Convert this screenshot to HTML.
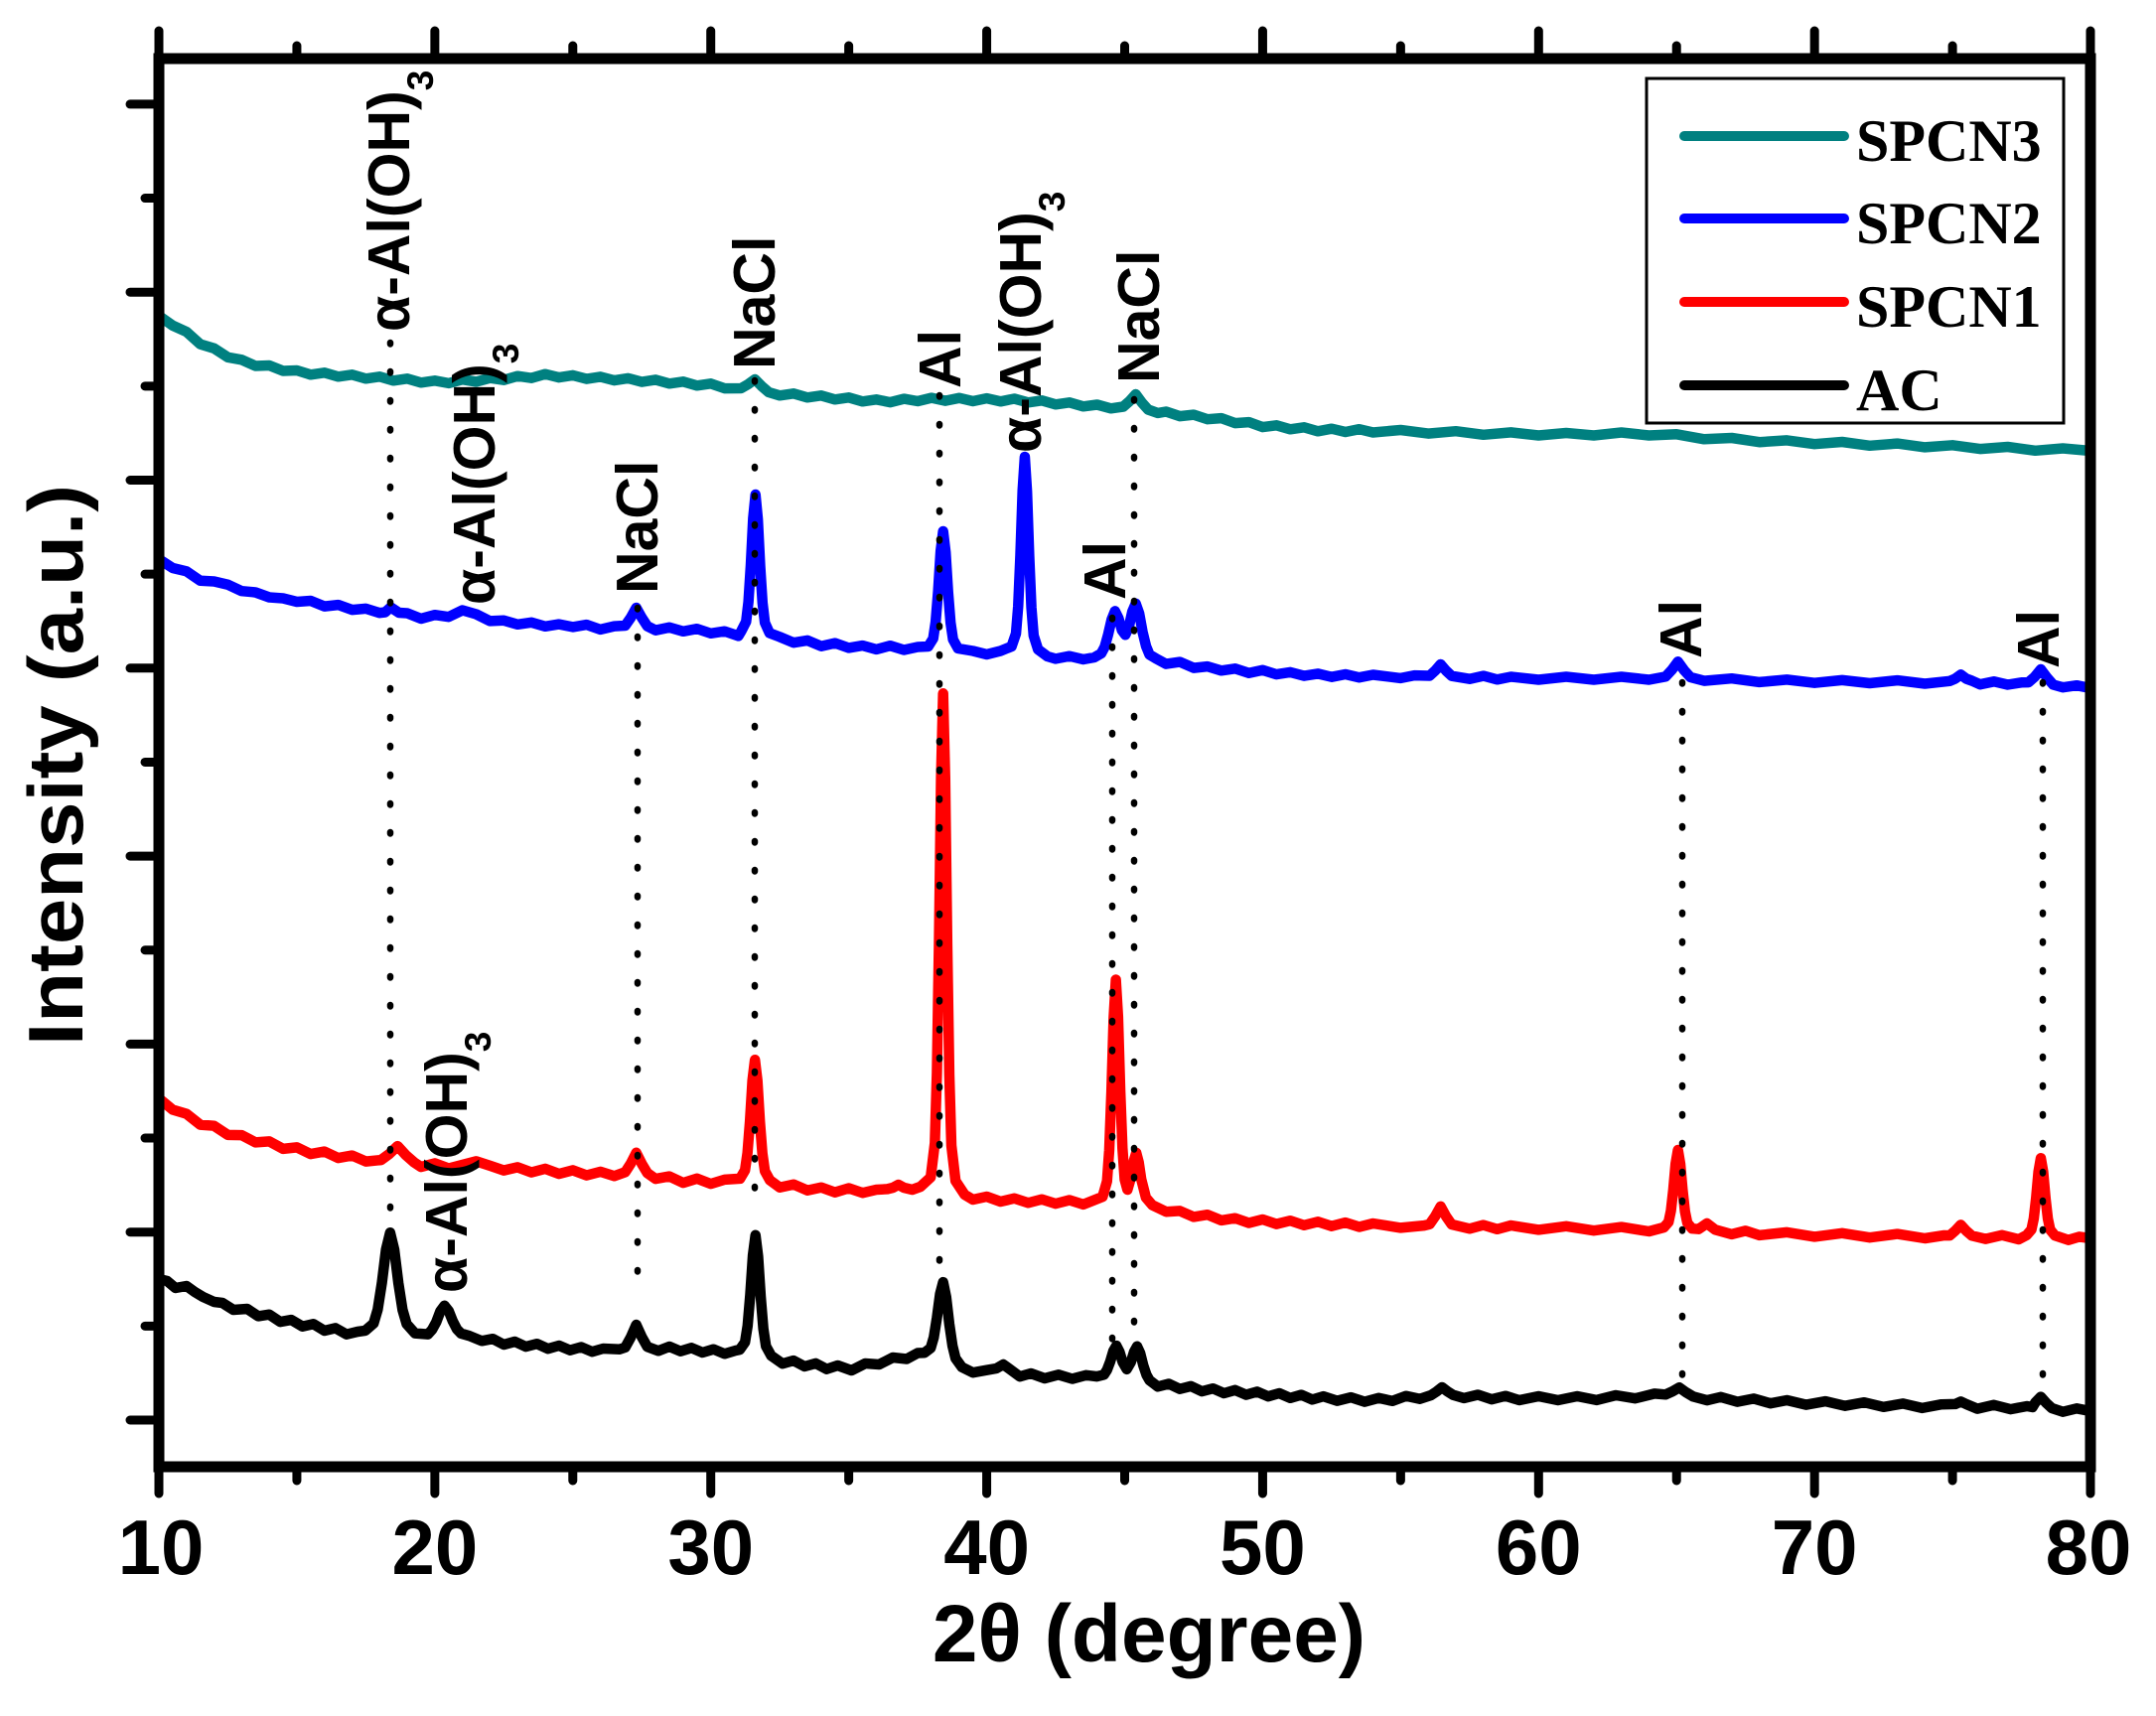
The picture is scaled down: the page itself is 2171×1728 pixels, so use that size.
<!DOCTYPE html>
<html>
<head>
<meta charset="utf-8">
<style>
html,body{margin:0;padding:0;background:#fff;}
svg{display:block;}
.lab{font-family:"Liberation Sans",Arial,sans-serif;font-weight:bold;fill:#000;}
.leg{font-family:"Liberation Serif","Times New Roman",serif;font-weight:bold;fill:#000;}
.cv{fill:none;stroke-width:10.5;stroke-linejoin:round;stroke-linecap:round;vector-effect:non-scaling-stroke;}
</style>
</head>
<body>
<svg width="2171" height="1728" viewBox="0 0 2171 1728" xmlns="http://www.w3.org/2000/svg">
<rect x="0" y="0" width="2171" height="1728" fill="#fff"/>
<g fill="none" stroke="#000" stroke-width="9" stroke-linecap="round">
<path d="M160 1477V1504M437.86 1477V1504M715.72 1477V1504M993.58 1477V1504M1271.44 1477V1504M1549.3 1477V1504M1827.16 1477V1504M2105 1477V1504M298.93 1477V1491M576.79 1477V1491M854.65 1477V1491M1132.51 1477V1491M1410.37 1477V1491M1688.23 1477V1491M1966.09 1477V1491"/>
<path d="M160 59V31M437.86 59V31M715.72 59V31M993.58 59V31M1271.44 59V31M1549.3 59V31M1827.16 59V31M2105 59V31M298.93 59V46M576.79 59V46M854.65 59V46M1132.51 59V46M1410.37 59V46M1688.23 59V46M1966.09 59V46"/>
<path d="M160 1430H131M160 1240.7H131M160 1051.4H131M160 862.1H131M160 672.8H131M160 483.5H131M160 294.2H131M160 104.9H131"/>
<path d="M160 1335.35H146M160 1146.05H146M160 956.75H146M160 767.45H146M160 578.15H146M160 388.85H146M160 199.55H146"/>
</g>
<g transform="matrix(27.786 0 0 1 -117.86 0)">
<polyline class="cv" stroke="#000000" points="10,1288 10.3,1290 10.6,1297 11,1295 11.3,1301 11.6,1306 12,1311 12.3,1312 12.7,1319 13.2,1318 13.6,1325.4 14,1323.7 14.4,1331.1 14.8,1329.1 15.2,1335.7 15.6,1333.3 16,1340 16.4,1337.4 16.8,1343.7 17.2,1341 17.48,1339.9 17.78,1332.7 17.93,1318.6 18.08,1292.1 18.23,1258.4 18.38,1241.2 18.53,1258.4 18.68,1292.2 18.83,1319 18.98,1333.3 19.28,1342.6 19.75,1343.6 19.9,1339 20.05,1331.4 20.2,1320.4 20.35,1314.8 20.5,1320 20.65,1330.4 20.8,1338.5 20.95,1342.8 21.25,1345.2 21.7,1350.3 22.1,1348.2 22.5,1354 22.9,1351 23.3,1356.1 23.7,1353.2 24.1,1358.2 24.5,1355 24.9,1359.7 25.3,1356.5 25.7,1361.2 26.1,1358 26.7,1358.7 26.9,1356.8 27.1,1346.7 27.3,1334 27.5,1346.3 27.7,1356.2 28.1,1360.3 28.5,1356 28.9,1360.7 29.3,1357.3 29.7,1362 30.1,1358.7 30.5,1363.3 30.9,1360 31.05,1359.1 31.24,1351.6 31.335,1335 31.43,1303.8 31.525,1264.3 31.62,1243.8 31.715,1265.3 31.81,1305.8 31.905,1338 32,1355.6 32.19,1365.2 32.6,1373.2 33,1370.1 33.4,1376 33.8,1372.9 34.2,1378.7 34.6,1375 35.1,1380 35.6,1373 36.1,1374 36.6,1367 37.1,1368.5 37.5,1362.5 37.745,1362.2 37.97,1357.4 38.08,1346.9 38.195,1327 38.31,1302.9 38.42,1291.2 38.53,1306 38.645,1333.4 38.76,1355.3 38.87,1367.8 39.1,1376.7 39.5,1382.2 40,1379.7 40.35,1378 40.6,1374 40.85,1379 41.2,1386.2 41.6,1383 42.1,1388 42.6,1384.3 43.1,1388.5 43.6,1384.8 44,1386.1 44.25,1384.3 44.36,1379.5 44.475,1371.1 44.59,1360.4 44.7,1355.1 44.81,1361.1 44.925,1371.5 45.075,1378.8 45.225,1371.6 45.34,1361.3 45.45,1355.8 45.56,1362.4 45.675,1375 45.79,1384.5 45.9,1389.9 46.2,1396.3 46.6,1393.5 47,1398.7 47.4,1395.9 47.8,1401.1 48.2,1398.2 48.6,1403 49,1399.8 49.4,1404.6 49.8,1401.4 50.2,1406.2 50.6,1403 51,1407.8 51.4,1404.6 51.8,1409.4 52.2,1406.1 52.7,1410.6 53.2,1407.1 53.7,1411.6 54.2,1407.8 54.7,1410.8 55.2,1405.7 55.7,1408.7 56.1,1405 56.3,1401.4 56.5,1397 56.7,1401.2 56.9,1404.7 57.3,1407.9 57.8,1404.5 58.3,1409.1 58.8,1405.7 59.3,1410 60,1406 60.7,1410 61.4,1406 62.1,1409.9 62.8,1405 63.5,1408.2 64.2,1403.4 64.6,1404.3 64.85,1401.2 65.1,1397.2 65.35,1402.2 65.6,1406.3 66.1,1410.1 66.6,1406.8 67.2,1411.6 67.8,1408.4 68.4,1413.2 69,1410 69.7,1414.6 70.4,1411.1 71.1,1415.7 71.8,1412.2 72.5,1416.8 73.2,1413.4 73.9,1417.9 74.6,1414.2 75.1,1413.9 75.3,1411.4 75.5,1414 75.9,1418.6 76.5,1414.8 77.1,1419.1 77.7,1416 77.9,1417 78,1412.3 78.2,1406.6 78.4,1412.9 78.6,1418 79,1421.7 79.5,1418.3 80,1421"/>
<polyline class="cv" stroke="#ff0000" points="10,1106 10.5,1117.5 11,1121.6 11.5,1132.6 12,1133.7 12.5,1142.9 13,1143.1 13.5,1150.4 14,1149.4 14.5,1156.9 15,1155.4 15.5,1162.1 16,1159.6 16.5,1166.1 17,1163.6 17.5,1169.6 18.05,1168.1 18.35,1162 18.65,1154.1 18.95,1163.2 19.25,1170.5 19.5,1175.1 20,1171.4 20.5,1176.6 21,1172.9 21.5,1169.4 22,1173.9 22.5,1178.6 23,1175.4 23.5,1180.6 24,1176.9 24.5,1182.1 25,1178.4 25.5,1183.6 26,1179.9 26.5,1184.3 26.9,1180.3 27.1,1171.7 27.3,1160.8 27.5,1171.9 27.7,1181.2 28,1187.1 28.5,1184.6 29,1191.1 29.5,1186.8 30,1192.1 30.5,1187.9 31.06,1186.9 31.24,1178.4 31.33,1161 31.42,1129 31.51,1088 31.6,1067.2 31.69,1088.3 31.78,1129.4 31.87,1161.5 31.96,1179.2 32.14,1188.4 32.5,1195.7 33,1192.7 33.5,1198.7 34,1195.7 34.5,1200.7 35,1196.5 35.5,1201.2 36,1198 36.4,1197.4 36.6,1196 36.8,1193 37,1196 37.3,1198 37.6,1195 37.97,1185.5 38.12,1151 38.195,1080.5 38.27,949.8 38.345,784 38.42,698.3 38.495,784.6 38.57,950.9 38.645,1082.2 38.72,1153.5 38.87,1189.1 39.2,1203 39.5,1208 40,1205 40.5,1210 41,1206.8 41.5,1211.3 42,1207.7 42.5,1212.1 43,1208.5 43.5,1212.9 44.2,1205.1 44.36,1189.5 44.44,1158.2 44.52,1099.3 44.6,1024.8 44.68,986.5 44.76,1024 44.84,1098.3 44.92,1156.4 45,1187.8 45.1,1198 45.24,1184.6 45.33,1169.2 45.42,1160.9 45.51,1170.5 45.6,1187.4 45.77,1206 46,1213.5 46.5,1220.2 47,1219.4 47.5,1225.4 48,1223.2 48.5,1228.9 49,1226.7 49.5,1231.5 50,1228 50.5,1232.6 51,1229.2 51.5,1233.8 52,1230.3 52.5,1234.7 53,1231.1 53.5,1235.5 54,1232 55,1236.4 55.85,1234.1 56.05,1232.8 56.25,1224.9 56.45,1214.9 56.65,1225 56.85,1233 57.5,1237.3 58,1233.6 58.5,1237.8 59,1234 60,1238.4 61,1234.8 62,1239.2 63,1235.6 64,1240 64.54,1236 64.71,1230.6 64.795,1219.3 64.88,1198.3 64.965,1171.9 65.05,1158 65.135,1172.1 65.22,1198.7 65.305,1219.9 65.39,1231.4 65.56,1237.2 65.8,1237.7 66.1,1232 66.4,1238.3 67,1242.9 67.5,1239.4 68,1243.9 69,1240.9 70,1245.4 71,1241.8 72,1246.2 73,1242.6 74,1247 74.7,1244 74.9,1244.1 75.1,1239.3 75.3,1233.4 75.5,1239.5 75.7,1244.3 76.2,1247.6 76.8,1243.8 77.4,1248 77.69,1243.7 77.86,1238.2 77.945,1227 78.03,1206.2 78.115,1179.9 78.2,1166.3 78.285,1179.9 78.37,1206.4 78.455,1227.2 78.54,1238.4 78.71,1244.1 79.2,1248.7 79.6,1245.4 80,1247"/>
<polyline class="cv" stroke="#0000ff" points="10,563 10.5,572 11,575.3 11.5,584.8 12,585.5 12.5,588.7 13,595.2 13.5,596.5 14,601.5 14.5,602.5 15,606 15.5,605 16,610.6 16.5,609.1 17,614.1 17.5,612.9 18,617.2 18.2,616.5 18.4,611.5 18.7,617 19,617.5 19.5,623 20,619.2 20.5,621.2 21,614.5 21.5,618.5 22,625.4 22.5,624.8 23,628.8 23.5,626.8 24,630.8 24.5,628.6 25,631.4 25.5,629.1 26,633.9 26.5,630.6 26.9,630 27.1,622 27.3,612 27.5,622 27.7,630.5 28,634.7 28.5,631.8 29,635.8 29.5,633.2 30,637.8 30.5,635.7 31,640.4 31.11,635.3 31.28,626 31.365,606 31.45,569 31.535,522 31.62,498 31.705,523 31.79,570 31.875,607 31.96,627 32.13,637.5 32.5,641.4 33,647.2 33.5,644.9 34,650.7 34.5,647.6 35,652.4 35.5,650.1 36,653.9 36.5,650.2 37,654.5 37.5,651.5 37.88,651 38.06,643 38.15,626 38.24,595 38.33,555 38.42,535 38.51,556 38.6,596 38.69,627 38.78,644 38.96,653 39.5,655.5 40,659 40.5,655.5 40.9,651 41.06,638 41.14,610.5 41.22,559 41.3,494 41.38,460 41.46,495 41.54,560 41.62,612 41.7,640 41.86,654 42.2,661 42.5,663.4 43,660.7 43.5,664 43.9,662 44.15,658 44.275,651.5 44.4,639 44.525,624 44.65,615.4 44.775,622.4 44.9,634.7 45.025,639.3 45.15,631.5 45.275,615.9 45.4,607.8 45.525,617.6 45.65,636.5 45.775,650.8 45.9,659.2 46.15,663.4 46.5,668.6 47,666.6 47.5,672.6 48,671.1 48.5,675.3 49,673.3 49.5,677.8 50,674.8 50.5,679.1 51,676.9 51.5,680.6 52,678.4 52.5,681.7 53,679 53.5,682.2 54,679.5 55,682.9 55.5,680.1 56.05,680.5 56.25,675.4 56.45,669 56.65,675.5 56.85,680.7 57.5,683.7 58,680.6 58.5,684.3 59,681.5 60,684.5 61,681.5 62,684.5 63,681.5 64,684.5 64.6,681.4 64.825,674.7 65.05,666.3 65.275,675 65.5,681.9 66,685.6 67,683.2 68,686.9 69,684.4 70,687.7 71,684.9 72,688 73,685.1 74,688.5 74.9,685.8 75.1,683.4 75.3,679.4 75.5,683.5 75.7,685.5 76,689.2 76.5,686.3 77,689.5 77.5,687.3 77.75,687.1 77.975,681.7 78.2,674 78.425,682.4 78.65,689.5 79,692.2 79.5,690.2 80,693"/>
<polyline class="cv" stroke="#008080" points="10,318 10.5,327.8 11,334.1 11.5,346.6 12,350.8 12.5,359.8 13,362.3 13.5,368.5 14,368 14.5,373.5 15,373 15.5,377.3 16,375.3 16.5,379.3 17,377.3 17.5,381.3 18,379.3 18.5,383.3 19,381.3 19.5,385.3 20,383.3 20.5,385.9 21,382.2 21.5,384.4 22,380.7 22.5,382.7 23,378.7 23.5,380.7 24,376.7 24.5,380.1 25,377.9 25.5,381.6 26,379.4 26.5,383.1 27,380.9 27.5,384.6 28,382.4 28.5,386.3 29,384.3 29.5,388.3 30,386.3 30.5,391.1 31.1,391 31.35,387 31.6,382 31.85,389 32.1,395 32.5,398.3 33,396.3 33.5,400.3 34,398.3 34.5,402.3 35,400.3 35.5,404.3 36,402.3 36.5,405.1 37,401.6 37.5,404 38,400.6 38.5,403.6 39,400.8 39.5,404 40,401.1 40.5,404.3 41,401.5 41.5,405.3 42,403.3 42.5,407.3 43,405.3 43.5,409.3 44,407.5 44.5,411.3 44.95,409.5 45.175,404 45.4,397 45.625,405.5 45.85,412.5 46.2,415.9 46.5,414.5 47,419.1 47.5,417.6 48,422.2 48.5,421.1 49,426.1 49.5,425.1 50,430.1 50.5,428.3 51,432.3 51.5,430.3 52,434.3 52.5,431.7 53,435 53.5,432.2 54,435.5 55,433 56,436.6 57,434.2 58,437.8 59,435.4 60,438.5 61,436 62,438.5 63,435.5 64,438.5 65,437.3 66,442.3 67,441 68,445.2 69,443.4 70,447.2 71,445 72,448.8 73,446.6 74,450.4 75,448.3 76,452.1 77,450 78,453.8 79,451.5 80,454"/>
</g>
<path fill="none" stroke="#000" stroke-width="6.5" stroke-linecap="round" stroke-dasharray="1.5 27.5" d="M393 345V1226M642 612V1305M760 383V1215M946 398V1292M1120 622V1352M1142 402V1352M1694 687V1392M2057 687V1395"/>
<rect x="160" y="59" width="1945" height="1418" fill="none" stroke="#000" stroke-width="11"/>
<g class="lab" font-size="59">
<text transform="translate(412,334) rotate(-90)">α-Al(OH)<tspan font-size="37" dy="24">3</tspan></text>
<text transform="translate(498,609) rotate(-90)">α-Al(OH)<tspan font-size="37" dy="24">3</tspan></text>
<text transform="translate(662,598) rotate(-90)">NaCl</text>
<text transform="translate(780,372) rotate(-90)">NaCl</text>
<text transform="translate(967,391) rotate(-90)">Al</text>
<text transform="translate(1048,456) rotate(-90)">α-Al(OH)<tspan font-size="37" dy="24">3</tspan></text>
<text transform="translate(1167,386) rotate(-90)">NaCl</text>
<text transform="translate(1133,604) rotate(-90)">Al</text>
<text transform="translate(1713,663) rotate(-90)">Al</text>
<text transform="translate(2073,673) rotate(-90)">Al</text>
<text transform="translate(470,1302) rotate(-90)">α-Al(OH)<tspan font-size="37" dy="24">3</tspan></text>
</g>
<rect x="1658" y="79" width="420" height="347" fill="#fff" stroke="#000" stroke-width="3"/>
<path fill="none" stroke-width="10" stroke-linecap="round" stroke="#008080" d="M1696 137H1857"/>
<path fill="none" stroke-width="10" stroke-linecap="round" stroke="#0000ff" d="M1696 220H1857"/>
<path fill="none" stroke-width="10" stroke-linecap="round" stroke="#ff0000" d="M1696 304H1857"/>
<path fill="none" stroke-width="10" stroke-linecap="round" stroke="#000000" d="M1696 388H1857"/>
<g class="leg" font-size="60">
<text x="1869" y="162">SPCN3</text>
<text x="1869" y="245">SPCN2</text>
<text x="1869" y="329">SPCN1</text>
<text x="1869" y="413">AC</text>
</g>
<g class="lab" font-size="78" text-anchor="middle">
<text x="162" y="1585">10</text>
<text x="437.86" y="1585">20</text>
<text x="715.72" y="1585">30</text>
<text x="993.58" y="1585">40</text>
<text x="1271.44" y="1585">50</text>
<text x="1549.3" y="1585">60</text>
<text x="1827.16" y="1585">70</text>
<text x="2103" y="1585">80</text>
</g>
<text class="lab" x="1157" y="1673" font-size="82" text-anchor="middle">2θ (degree)</text>
<text class="lab" transform="translate(83,1053) rotate(-90)" font-size="78" textLength="565" lengthAdjust="spacingAndGlyphs">Intensity (a.u.)</text>
</svg>
</body>
</html>
